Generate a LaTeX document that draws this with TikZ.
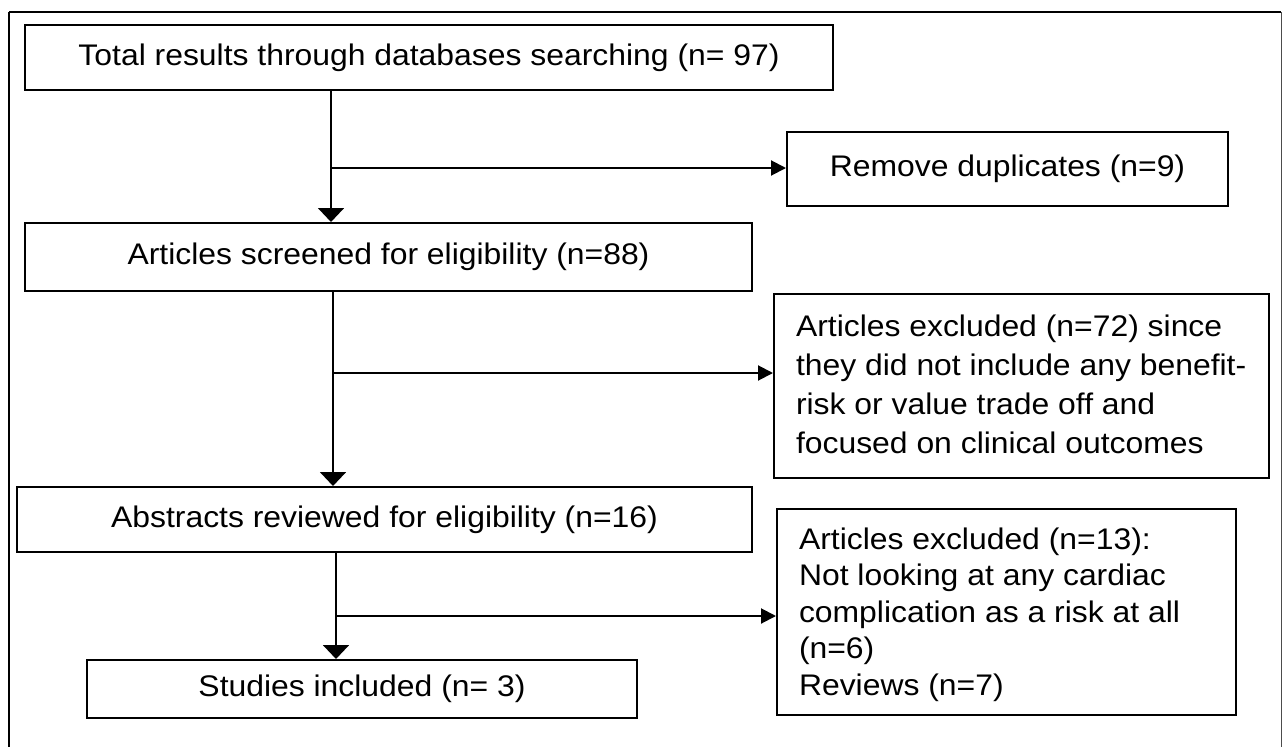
\documentclass[tikz,border=0pt]{standalone}
\usepackage{fontspec}
\setmainfont{Liberation Sans}[FakeStretch=1.07]
\usetikzlibrary{arrows.meta}
\tikzset{
  box/.style={draw, line width=2pt, rectangle, inner sep=0pt, align=center,
    font=\fontsize{29.8}{36}\selectfont},
  sidebox/.style={draw, line width=2pt, rectangle, anchor=north west, inner ysep=0pt,
    inner xsep=22pt, font=\fontsize{29.8}{36}\selectfont},
  conn/.style={line width=2pt},
  varrow/.style={conn, -{Triangle[length=14pt, width=26pt]}},
  harrow/.style={conn, -{Triangle[length=15pt, width=15pt]}},
}
\begin{document}
\begin{tikzpicture}[x=1pt, y=-1pt]
\useasboundingbox (0,0) rectangle (1283,747);
\draw[line width=2pt] (9,12) -- (1281,12);
\draw[line width=2pt] (9,12) -- (9,760);
\draw[line width=1.5pt, black!70] (1281.5,12) -- (1281.5,760);

\node[box, minimum width=808pt, minimum height=65pt] (b1) at (429,57.5)
  {Total results through databases searching (n= 97)};
\node[box, minimum width=441pt, minimum height=74pt] (rem) at (1007.5,169)
  {Remove duplicates (n=9)};
\node[box, minimum width=727pt, minimum height=68pt] (b2) at (388.5,257)
  {Articles screened for eligibility (n=88)};
\node[sidebox] (x72) at (773,293)
  {\parbox[t][184pt][t]{451pt}{\fontsize{29.8}{39.3}\selectfont\raggedright
   \rule{0pt}{42pt}Articles excluded (n=72) since\\they did not include any benefit-\\risk or value trade off and\\focused on clinical outcomes}};
\node[box, minimum width=735pt, minimum height=65pt] (b3) at (384.5,519.5)
  {Abstracts reviewed for eligibility (n=16)};
\node[sidebox] (x13) at (776,508)
  {\parbox[t][206pt][t]{415pt}{\fontsize{29.8}{36.5}\selectfont\raggedright
   \rule{0pt}{40pt}Articles excluded (n=13):\\Not looking at any cardiac\\complication as a risk at all\\(n=6)\\Reviews (n=7)}};
\node[box, minimum width=550pt, minimum height=58pt] (b4) at (362,689)
  {Studies included (n= 3)};

\coordinate (j1) at (331,168);
\coordinate (j2) at (333,373);
\coordinate (j3) at (336,616);

\draw[varrow] (b1.south -| j1) -- (b2.north -| j1);
\draw[harrow] (j1) -- (j1 -| rem.west);
\draw[varrow] (b2.south -| j2) -- (b3.north -| j2);
\draw[harrow] (j2) -- (j2 -| x72.west);
\draw[varrow] (b3.south -| j3) -- (b4.north -| j3);
\draw[harrow] (j3) -- (j3 -| x13.west);
\end{tikzpicture}
\end{document}
